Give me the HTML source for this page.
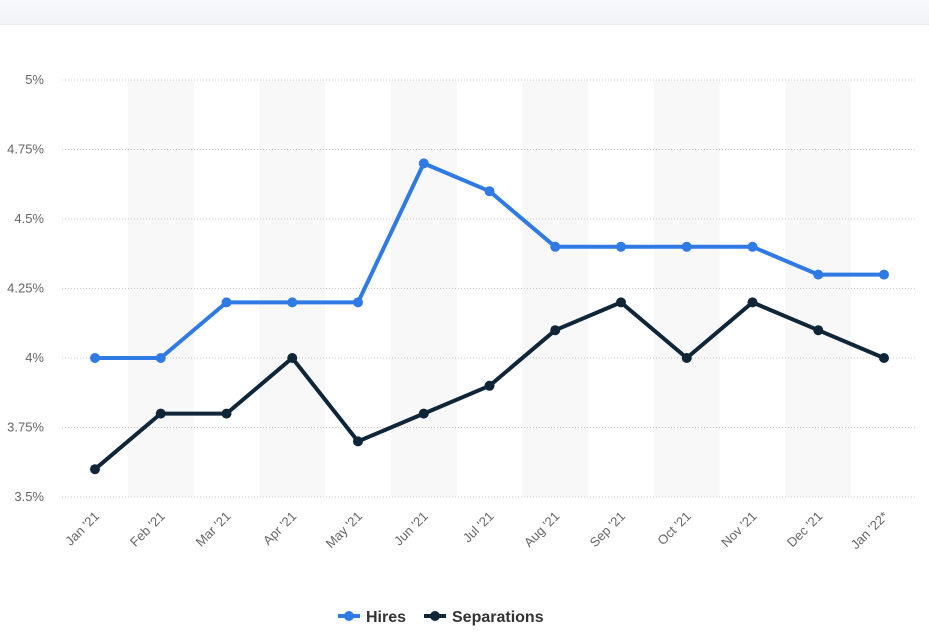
<!DOCTYPE html>
<html><head><meta charset="utf-8"><style>
body{margin:0;width:929px;height:643px;background:#fff;overflow:hidden;font-family:"Liberation Sans",sans-serif}
.top{position:absolute;left:0;top:0;width:929px;height:24px;background:linear-gradient(#f7f8fa,#f2f3f6);border-bottom:1px solid #eceef1}
</style></head><body>
<div class="top"></div>
<svg id="c" width="929" height="643" style="position:absolute;left:0;top:0"></svg>
<script>
const categories=["Jan '21","Feb '21","Mar '21","Apr '21","May '21","Jun '21","Jul '21","Aug '21","Sep '21","Oct '21","Nov '21","Dec '21","Jan '22*"];
const hires=[4.0,4.0,4.2,4.2,4.2,4.7,4.6,4.4,4.4,4.4,4.4,4.3,4.3];
const separations=[3.6,3.8,3.8,4.0,3.7,3.8,3.9,4.1,4.2,4.0,4.2,4.1,4.0];
const yTicks=[3.5,3.75,4,4.25,4.5,4.75,5];
const yTickLabels=["3.5%","3.75%","4%","4.25%","4.5%","4.75%","5%"];
const svg=document.getElementById('c');const NS='http://www.w3.org/2000/svg';
const x0=95,step=(884-95)/12;
const x=i=>x0+i*step;
const y=v=>497-(v-3.5)/1.5*417;
function mk(t,a,p){const e=document.createElementNS(NS,t);for(const k in a)e.setAttribute(k,a[k]);(p||svg).appendChild(e);return e;}
categories.forEach((c,i)=>{if(i%2==1){const r=mk('rect',{x:x(i)-step/2,y:80,width:step,height:417,fill:'#f8f8f8'});

}});
yTicks.forEach((t,i)=>{const l=mk('line',{x1:62,x2:917,y1:y(t),y2:y(t),stroke:'#c8c8c8','stroke-dasharray':'1,2'});


const tx=mk('text',{x:44,y:y(t)+4,'text-anchor':'end','font-size':13,fill:'#666'});tx.textContent=yTickLabels[i];

});
categories.forEach((c,i)=>{const t=mk('text',{x:x(i)+5,y:517,'text-anchor':'end','font-size':13,fill:'#666',transform:`rotate(-45 ${x(i)+5} 517)`});t.textContent=c;

});
function series(vals,col,name){const p=mk('polyline',{points:vals.map((v,i)=>x(i)+','+y(v)).join(' '),fill:'none',stroke:col,'stroke-width':4,'stroke-linejoin':'round'});


vals.forEach((v,i)=>{const d=mk('circle',{cx:x(i),cy:y(v),r:5,fill:col});

});}
series(hires,'#2f7ae5','hires');series(separations,'#0f2538','separations');
function leg(lx,col,label,name){const g=mk('g',{});
mk('line',{x1:lx,x2:lx+22,y1:616,y2:616,stroke:col,'stroke-width':4},g);mk('circle',{cx:lx+11,cy:616,r:5,fill:col},g);
const t=mk('text',{x:lx+28,y:622,'font-size':16,'font-weight':'bold',fill:'#333'},g);t.textContent=label;}
leg(338,'#2f7ae5','Hires','hires');leg(424,'#0f2538','Separations','separations');
</script>
</body></html>
